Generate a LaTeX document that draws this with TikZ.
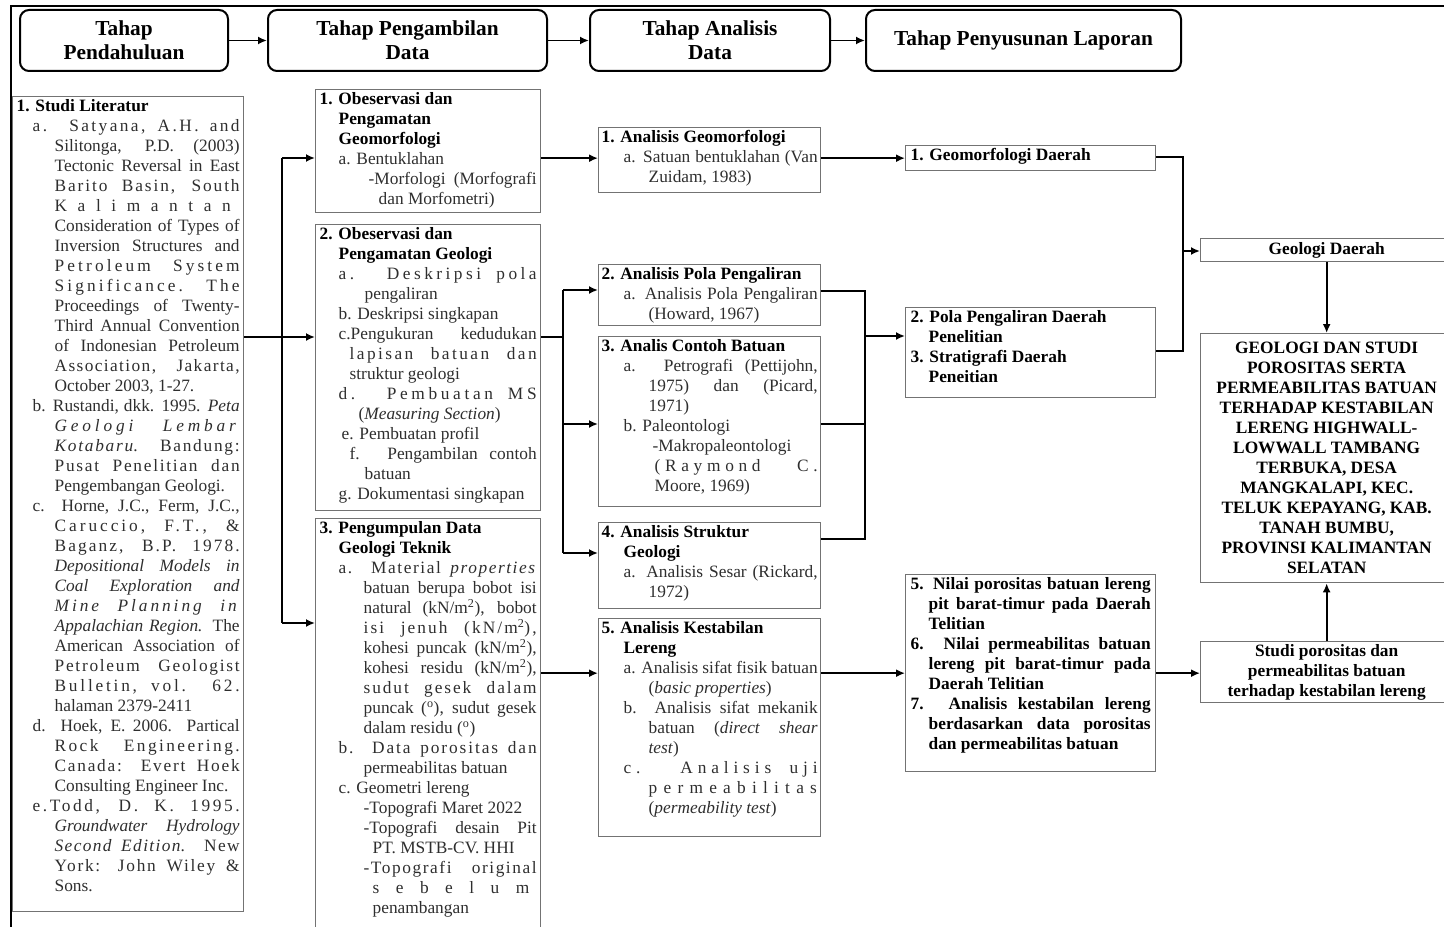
\documentclass[tikz,border=0pt]{standalone}
\usepackage{fontspec}
\setmainfont{Liberation Serif}
\usetikzlibrary{arrows.meta}
\newlength\px
\setlength\px{0.75pt}
\definecolor{txt}{gray}{0.18}
\definecolor{boxgray}{gray}{0.45}
\newcommand{\boxtext}[3]{\parbox[c][#2\px][t]{#1\px}{\fontsize{13}{15}\selectfont\color{txt}\hyphenpenalty=10000\hbadness=10000\hfuzz=4pt #3}}
\newcommand{\itm}[3]{{\leftskip=#1\px\hangindent=#2\px\hangafter=1\noindent#3\par}}
\newcommand{\hd}[1]{{\color{black}\bfseries#1}}
\newcommand{\lsp}[2]{{\addfontfeature{LetterSpace=#1}#2}}
\begin{document}
\begin{tikzpicture}[x=\px, y=-\px,
    hdr/.style={draw, line width=1.5pt, rounded corners=9\px, minimum height=61\px, inner sep=0pt, align=center, font=\fontsize{16}{18}\selectfont\bfseries},
    box/.style={draw=boxgray, line width=1pt, anchor=north west, inner xsep=4\px, inner ysep=3\px},
    ctr/.style={draw=boxgray, line width=1pt, anchor=north west, inner sep=0pt, minimum width=252\px, align=center, font=\fontsize{13}{15}\selectfont\bfseries},
    ln/.style={line width=1.4pt},
    arr/.style={line width=1.4pt, -{Latex[length=6.75pt,width=6pt]}}]
        \useasboundingbox (0,0) rectangle (1444,927);
        \draw[line width=2.2pt] (11,940) -- (11,6) -- (1460,6);

        \node[hdr, minimum width=208\px] (h1) at (124,40.5) {Tahap\\Pendahuluan};
        \node[hdr, minimum width=279\px] (h2) at (407.5,40.5) {Tahap Pengambilan\\Data};
        \node[hdr, minimum width=240\px] (h3) at (710,40.5) {Tahap Analisis\\Data};
        \node[hdr, minimum width=315\px] (h4) at (1023.5,40.5) {Tahap Penyusunan Laporan};

        \node[box] (lit) at (12,96) {\boxtext{223}{809}{%
            \hd{1. Studi Literatur}\par
            \itm{16}{22}{\lsp{14}{a. Satyana, A.H. and}\linebreak Silitonga, P.D. (2003)\linebreak Tectonic Reversal in East\linebreak \lsp{11}{Barito Basin, South}\linebreak \lsp{61}{Kalimantan}\linebreak Consideration of Types of\linebreak Inversion Structures and\linebreak \lsp{18}{Petroleum System}\linebreak \lsp{18}{Significance. The}\linebreak Proceedings of Twenty-\linebreak Third Annual Convention\linebreak of Indonesian Petroleum\linebreak \lsp{8}{Association, Jakarta,}\linebreak October 2003, 1-27.}
            \itm{16}{22}{b. Rustandi, dkk. 1995. \textit{Peta}\linebreak \lsp{22}{\textit{Geologi Lembar}}\linebreak \lsp{10}{\textit{Kotabaru}. Bandung:}\linebreak \lsp{10}{Pusat Penelitian dan}\linebreak Pengembangan Geologi.}
            \itm{16}{22}{c. Horne, J.C., Ferm, J.C.,\linebreak \lsp{17}{Caruccio, F.T., \&}\linebreak \lsp{12}{Baganz, B.P. 1978.}\linebreak \textit{Depositional Models in}\linebreak \textit{Coal Exploration and}\linebreak \lsp{17}{\textit{Mine Planning in}}\linebreak \textit{Appalachian Region.} The\linebreak American Association of\linebreak \lsp{10}{Petroleum Geologist}\linebreak \lsp{16}{Bulletin, vol. 62.}\linebreak halaman 2379-2411}
            \itm{16}{22}{d. Hoek, E. 2006. Partical\linebreak \lsp{14}{Rock Engineering.}\linebreak \lsp{10}{Canada: Evert Hoek}\linebreak Consulting Engineer Inc.}
            \itm{16}{22}{\lsp{15}{e.Todd, D. K. 1995.}\linebreak \textit{Groundwater Hydrology}\linebreak \lsp{8}{\textit{Second Edition}. New}\linebreak \lsp{10}{York: John Wiley \&}\linebreak Sons.}}};

        \node[box] (obs1) at (315,89) {\boxtext{217}{117}{%
            \itm{0}{19}{\hd{1. Obeservasi dan\\ Pengamatan\\ Geomorfologi}}
            \itm{19}{0}{a. Bentuklahan}
            \itm{49}{10}{-Morfologi (Morfografi\linebreak dan Morfometri)}}};
        \node[box] (obs2) at (315,224) {\boxtext{217}{280}{%
            \itm{0}{19}{\hd{2. Obeservasi dan\\ Pengamatan Geologi}}
            \itm{19}{26}{\lsp{20}{a. Deskripsi pola}\linebreak pengaliran}
            \itm{19}{0}{b. Deskripsi singkapan}
            \itm{19}{11}{c.Pengukuran kedudukan\linebreak \lsp{14}{lapisan batuan dan}\linebreak struktur geologi}
            \itm{19}{20}{\lsp{21}{d. Pembuatan MS}\linebreak (\textit{Measuring Section})}
            \itm{22}{0}{e. Pembuatan profil}
            \itm{30}{15}{f. Pengambilan contoh\linebreak batuan}
            \itm{19}{0}{g. Dokumentasi singkapan}}};
        \node[box] (obs3) at (315,518) {\boxtext{217}{409}{%
            \itm{0}{19}{\hd{3. Pengumpulan Data\\ Geologi Teknik}}
            \itm{19}{25}{\lsp{9}{a. Material \textit{properties}}\linebreak batuan berupa bobot isi\linebreak natural (kN/m\textsuperscript{2}), bobot\linebreak \lsp{12}{isi jenuh (kN/m\textsuperscript{2}),}\linebreak kohesi puncak (kN/m\textsuperscript{2}),\linebreak kohesi residu (kN/m\textsuperscript{2}),\linebreak \lsp{11}{sudut gesek dalam}\linebreak puncak (\textsuperscript{o}), sudut gesek\linebreak dalam residu (\textsuperscript{o})}
            \itm{19}{25}{\lsp{11}{b. Data porositas dan}\linebreak permeabilitas batuan}
            \itm{19}{0}{c. Geometri lereng}
            \itm{44}{0}{-Topografi Maret 2022}
            \itm{44}{9}{-Topografi desain Pit\linebreak PT. MSTB-CV. HHI}
            \itm{44}{9}{\lsp{9}{-Topografi original}\linebreak \lsp{95}{sebelum}\linebreak penambangan}}};

        \node[box, inner xsep=3\px] (an1) at (598,127) {\boxtext{216}{59}{%
            \itm{0}{22}{\hd{1. Analisis Geomorfologi}}
            \itm{22}{25}{a. Satuan bentuklahan (Van\linebreak Zuidam, 1983)}}};
        \node[box, inner xsep=3\px] (an2) at (598,264) {\boxtext{216}{55}{%
            \itm{0}{22}{\hd{2. Analisis Pola Pengaliran}}
            \itm{22}{25}{a. Analisis Pola Pengaliran\linebreak (Howard, 1967)}}};
        \node[box, inner xsep=3\px] (an3) at (598,336) {\boxtext{216}{164}{%
            \itm{0}{22}{\hd{3. Analis Contoh Batuan}}
            \itm{22}{25}{a. Petrografi (Pettijohn,\linebreak 1975) dan (Picard,\linebreak 1971)}
            \itm{22}{0}{b. Paleontologi}
            \itm{51}{2}{-Makropaleontologi\linebreak \lsp{27}{(Raymond C.}\linebreak Moore, 1969)}}};
        \node[box, inner xsep=3\px] (an4) at (598,522) {\boxtext{216}{80}{%
            \itm{0}{22}{\hd{4. Analisis Struktur\\ Geologi}}
            \itm{22}{25}{a. Analisis Sesar (Rickard,\linebreak 1972)}}};
        \node[box, inner xsep=3\px] (an5) at (598,618) {\boxtext{216}{212}{%
            \itm{0}{22}{\hd{5. Analisis Kestabilan\\ Lereng}}
            \itm{22}{25}{a. Analisis sifat fisik batuan\linebreak (\textit{basic properties})}
            \itm{22}{25}{b. Analisis sifat mekanik\linebreak batuan (\textit{direct shear}\linebreak \textit{test})}
            \itm{22}{25}{\lsp{28}{c. Analisis uji}\linebreak \lsp{36}{permeabilitas}\linebreak (\textit{permeability test})}}};

        \node[box, inner xsep=5\px, inner ysep=3\px] (res1) at (905,145) {\boxtext{240}{19}{%
            \itm{0}{18}{\hd{1. Geomorfologi Daerah}}}};
        \node[box, inner xsep=5\px] (res2) at (905,307) {\boxtext{240}{84}{%
            \itm{0}{18}{\hd{2. Pola Pengaliran Daerah\\ Penelitian}}
            \itm{0}{18}{\hd{3. Stratigrafi Daerah\\ Peneitian}}}};
        \node[box, inner xsep=5\px] (res3) at (905,574) {\boxtext{240}{191}{%
            \itm{0}{18}{\hd{5. Nilai porositas batuan lereng\linebreak pit barat-timur pada Daerah\linebreak Telitian}}
            \itm{0}{18}{\hd{6. Nilai permeabilitas batuan\linebreak lereng pit barat-timur pada\linebreak Daerah Telitian}}
            \itm{0}{18}{\hd{7. Analisis kestabilan lereng\linebreak berdasarkan data porositas\linebreak dan permeabilitas batuan}}}};

        \node[ctr, minimum height=23\px] (gd) at (1200,238) {Geologi Daerah};
        \node[ctr, minimum height=249\px] (ttl) at (1200,333) {GEOLOGI DAN STUDI\\POROSITAS SERTA\\PERMEABILITAS BATUAN\\TERHADAP KESTABILAN\\LERENG HIGHWALL-\\LOWWALL TAMBANG\\TERBUKA, DESA\\MANGKALAPI, KEC.\\TELUK KEPAYANG, KAB.\\TANAH BUMBU,\\PROVINSI KALIMANTAN\\SELATAN};
        \node[ctr, minimum height=61\px] (std) at (1200,641) {Studi porositas dan\\permeabilitas batuan\\terhadap kestabilan lereng};

        \draw[arr] (h1) -- (h2);
        \draw[arr] (h2) -- (h3);
        \draw[arr] (h3) -- (h4);

        \coordinate (j1) at (282,337);
        \coordinate (j1a) at (282,158);
        \coordinate (j1c) at (282,623);
        \draw[ln] (lit.east |- j1) -- (j1);
        \draw[ln] (j1a) -- (j1c);
        \draw[arr] (j1a) -- (obs1.west |- j1a);
        \draw[arr] (j1) -- (obs2.west |- j1);
        \draw[arr] (j1c) -- (obs3.west |- j1c);

        \coordinate (j2) at (563,337);
        \coordinate (j2a) at (563,290);
        \coordinate (j2b) at (563,424);
        \coordinate (j2c) at (563,553);
        \draw[arr] (obs1.east |- res1.west) -- (an1.west |- res1.west);
        \draw[ln] (obs2.east |- j2) -- (j2);
        \draw[ln] (j2a) -- (j2c);
        \draw[arr] (j2a) -- (an2.west |- j2a);
        \draw[arr] (j2b) -- (an3.west |- j2b);
        \draw[arr] (j2c) -- (an4.west |- j2c);
        \draw[arr] (obs3.east |- res3.west) -- (an5.west |- res3.west);

        \coordinate (j3) at (865,336);
        \coordinate (j3a) at (865,291);
        \coordinate (j3b) at (865,424);
        \coordinate (j3c) at (865,539);
        \draw[arr] (an1.east |- res1.west) -- (res1.west);
        \draw[ln] (an2.east |- j3a) -- (j3a) -- (j3c) -- (an4.east |- j3c);
        \draw[ln] (an3.east |- j3b) -- (j3b);
        \draw[arr] (j3) -- (res2.west |- j3);
        \draw[arr] (an5.east |- res3.west) -- (res3.west);

        \coordinate (j4) at (1183,251);
        \coordinate (j4a) at (1183,157);
        \coordinate (j4b) at (1183,351);
        \draw[ln] (res1.east |- j4a) -- (j4a) -- (j4b) -- (res2.east |- j4b);
        \draw[arr] (j4) -- (gd.west |- j4);
        \draw[arr] (gd.south) -- (ttl.north);
        \draw[arr] (res3.east) -- (std.west |- res3.east);
        \draw[arr] (std.north) -- (ttl.south);
\end{tikzpicture}
\end{document}
